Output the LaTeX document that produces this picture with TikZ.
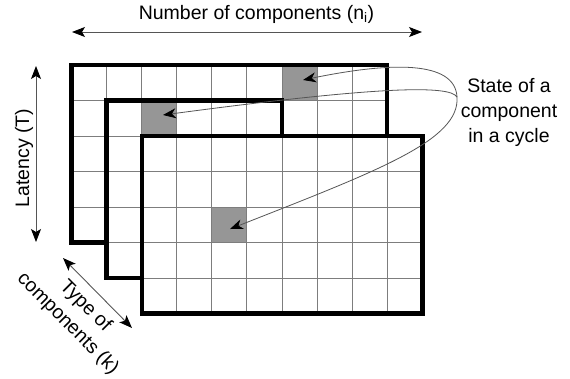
\documentclass[tikz,border=0pt]{standalone}
\usepackage{fontspec}
\setmainfont{Liberation Sans}
\usetikzlibrary{arrows.meta}
\definecolor{cellgrey}{RGB}{150,150,150}
\definecolor{gridgrey}{RGB}{125,125,125}
\definecolor{linegrey}{RGB}{85,85,85}
\tikzset{
  gridline/.style={draw=gridgrey,line width=1pt},
  framebox/.style={draw=black,line width=4.6pt,line join=miter},
  lbl/.style={inner sep=0pt,font=\fontsize{19.5}{25}\selectfont},
  dimarrow/.style={draw=linegrey,line width=0.9pt,
    {Stealth[length=13pt,width=10pt,inset=3pt,color=black]}-{Stealth[length=13pt,width=10pt,inset=3pt,color=black]}},
  callout/.style={draw=linegrey,line width=0.8pt,
    -{Stealth[length=13pt,width=10pt,inset=4pt,color=black]}}
}
% #1 col offset, #2 row offset, #3 columns, #4 rows, #5/#6 grey cell
\newcommand\gridlayer[6]{%
  \begin{scope}[shift={(71.7+#1*35.05,65+#2*35.5)},x=35.05pt,y=-35.5pt]
    \fill[white] (0,0) rectangle (#3,#4);
    \fill[cellgrey] (#5,#6) rectangle ++(1,1);
    \foreach \i in {0,...,#3} \draw[gridline] (\i,0) -- (\i,#4);
    \foreach \j in {0,...,#4} \draw[gridline] (0,\j) -- (#3,\j);
    \draw[framebox] (0,0) rectangle (#3,#4);
  \end{scope}}
\begin{document}
\begin{tikzpicture}[x=1pt,y=-1pt]
\useasboundingbox (0,0) rectangle (570,378);
\fill[white] (0,0) rectangle (570,378);
% three layers, back to front
\gridlayer{0}{0}{9}{5}{6}{0}
\gridlayer{1}{1}{5}{5}{1}{0}
\gridlayer{2}{2}{8}{5}{2}{2}
% labels
\node[lbl,anchor=base] (ncomp) at (256.5,19.5) {Number of components (n\textsubscript{i})};
\node[lbl,rotate=90,anchor=base] (lat) at (29,158) {Latency (T)};
\node[lbl,align=center] (state) at (509,112) {State of a\\component\\in a cycle};
\node[lbl,align=center,rotate=-45] (type) at (76.5,315) {Type of\\components (k)};
% dimension arrows
\coordinate (nL) at (72,32);
\coordinate (nR) at (422,32);
\coordinate (tT) at (36,66);
\coordinate (tB) at (36,242);
\coordinate (kA) at (63,258);
\coordinate (kB) at (132,328);
\draw[dimarrow] (nL) -- (nR);
\draw[dimarrow] (tT) -- (tB);
\draw[dimarrow] (kA) -- (kB);
% callouts
\coordinate (src) at (457,97);
\coordinate (tipA) at (303,80);
\coordinate (tipB) at (163,115);
\coordinate (tipC) at (230,229);
\draw[callout] (src) .. controls (455,60) and (390,62) .. (tipA);
\draw[callout] (src) .. controls (450,85) and (380,86) .. (tipB);
\draw[callout] (src) .. controls (460,140) and (380,170) .. (tipC);
\end{tikzpicture}
\end{document}
